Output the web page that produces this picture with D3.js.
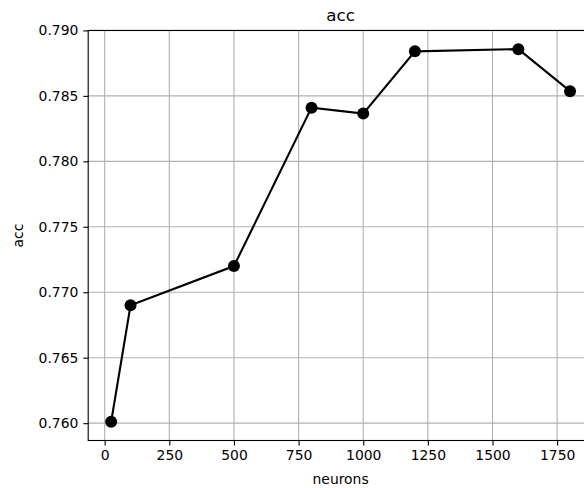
<!DOCTYPE html>
<html>
<head>
<meta charset="utf-8">
<script src="https://cdn.jsdelivr.net/npm/d3@7"></script>
<style>
  body { margin: 0; background: #fff; }
  svg { display: block; overflow: hidden; }
  text { font-family: "DejaVu Sans", sans-serif; fill: #000; }
</style>
</head>
<body>
<svg width="584" height="488"></svg>
<script>
// data
var neurons = [25, 100, 500, 800, 1000, 1200, 1600, 1800];
var acc = [0.7601, 0.7690, 0.7720, 0.7841, 0.78365, 0.7884, 0.78857, 0.78536];
var xTicks = [0, 250, 500, 750, 1000, 1250, 1500, 1750];
var yTicks = [0.760, 0.765, 0.770, 0.775, 0.780, 0.785, 0.790];

// plot area (right spine falls just outside the window)
var axLeft = 88.2, axRight = 593, axTop = 30.5, axBottom = 440.5;

var svg = d3.select('svg');

// matplotlib style 5% margins
var xPad = (d3.max(neurons) - d3.min(neurons)) * 0.05;
var yPad = (d3.max(acc) - d3.min(acc)) * 0.05;

var x = d3.scaleLinear()
  .domain([d3.min(neurons) - xPad, d3.max(neurons) + xPad])
  .range([axLeft, axRight]);
var y = d3.scaleLinear()
  .domain([d3.min(acc) - yPad, d3.max(acc) + yPad])
  .range([axBottom, axTop]);

// grid
svg.append('g').selectAll('line')
  .data(xTicks).enter().append('line')
  .attr('x1', function(d) { return x(d); })
  .attr('x2', function(d) { return x(d); })
  .attr('y1', axTop).attr('y2', axBottom)
  .attr('stroke', '#b0b0b0').attr('stroke-width', 1.1);

svg.append('g').selectAll('line')
  .data(yTicks).enter().append('line')
  .attr('y1', function(d) { return y(d); })
  .attr('y2', function(d) { return y(d); })
  .attr('x1', axLeft).attr('x2', axRight)
  .attr('stroke', '#b0b0b0').attr('stroke-width', 1.1);

// axes
var xAxis = d3.axisBottom(x).tickValues(xTicks).tickSize(4.9).tickPadding(4.9)
  .tickFormat(d3.format('d'));
var yAxis = d3.axisLeft(y).tickValues(yTicks).tickSize(4.9).tickPadding(4.9)
  .tickFormat(d3.format('.3f'));

var gx = svg.append('g').attr('transform', 'translate(0,' + axBottom + ')').call(xAxis);
var gy = svg.append('g').attr('transform', 'translate(' + axLeft + ',0)').call(yAxis);

[gx, gy].forEach(function(g) {
  g.select('.domain').remove();
  g.selectAll('line').attr('stroke', '#000').attr('stroke-width', 1.1);
  g.selectAll('text').style('font-size', '13.9px')
    .style('font-family', '"DejaVu Sans", sans-serif').attr('fill', '#000');
});

// spines
svg.append('rect')
  .attr('x', axLeft).attr('y', axTop)
  .attr('width', axRight - axLeft).attr('height', axBottom - axTop)
  .attr('fill', 'none').attr('stroke', '#000').attr('stroke-width', 1.1);

// line + markers
var line = d3.line()
  .x(function(d, i) { return x(neurons[i]); })
  .y(function(d) { return y(d); });

svg.append('path')
  .datum(acc)
  .attr('d', line)
  .attr('fill', 'none')
  .attr('stroke', '#000')
  .attr('stroke-width', 2.1);

svg.selectAll('circle.pt')
  .data(acc).enter().append('circle')
  .attr('class', 'pt')
  .attr('cx', function(d, i) { return x(neurons[i]); })
  .attr('cy', function(d) { return y(d); })
  .attr('r', 6)
  .attr('fill', '#000');

// labels
var cx = (axLeft + axRight) / 2;
svg.append('text')
  .attr('x', cx).attr('y', 21)
  .attr('text-anchor', 'middle')
  .style('font-size', '16.7px')
  .text('acc');

svg.append('text')
  .attr('x', cx).attr('y', 484)
  .attr('text-anchor', 'middle')
  .style('font-size', '13.9px')
  .text('neurons');

svg.append('text')
  .attr('transform', 'translate(23,' + ((axTop + axBottom) / 2) + ')rotate(-90)')
  .attr('text-anchor', 'middle')
  .style('font-size', '13.9px')
  .text('acc');
</script>
</body>
</html>
